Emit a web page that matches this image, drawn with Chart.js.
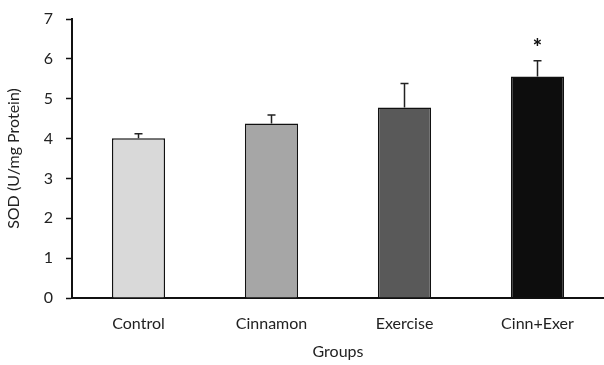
<!DOCTYPE html>
<html>
<head>
<meta charset="utf-8">
<script src="https://cdn.jsdelivr.net/npm/chart.js@4"></script>
<style>
  html, body { margin: 0; padding: 0; background: #fff; }
  #wrap { width: 604px; height: 365px; }
</style>
</head>
<body>
<div id="wrap"><canvas id="sod"></canvas></div>
<script>
const groups = ["Control", "Cinnamon", "Exercise", "Cinn+Exer"];
const sodMeans = [4.01, 4.38, 4.78, 5.56];
const sodErrors = [0.11, 0.21, 0.6, 0.39];
const marks = ["", "", "", "*"];
const yTicks = [0, 1, 2, 3, 4, 5, 6, 7];
const barColors = ["#d9d9d9", "#a6a6a6", "#595959", "#0d0d0d"];

Chart.defaults.font.family = "Lato, 'Open Sans', sans-serif";
Chart.defaults.font.size = 16;
Chart.defaults.color = "#222";

// error bars + significance marks, placed with the chart's own scales
const errorBars = {
  id: "errorBars",
  afterDatasetsDraw(chart) {
    const ctx = chart.ctx;
    const y = chart.scales.y;
    const meta = chart.getDatasetMeta(0);
    ctx.save();
    ctx.strokeStyle = "#222";
    ctx.lineWidth = 1.5;
    meta.data.forEach((bar, i) => {
      const top = y.getPixelForValue(sodMeans[i] + sodErrors[i]);
      ctx.beginPath();
      ctx.moveTo(bar.x, bar.y);
      ctx.lineTo(bar.x, top);
      ctx.moveTo(bar.x - 4, top);
      ctx.lineTo(bar.x + 4, top);
      ctx.stroke();
      if (marks[i]) {
        ctx.fillStyle = "#111";
        ctx.font = "900 22px Lato, sans-serif";
        ctx.textAlign = "center";
        ctx.textBaseline = "bottom";
        ctx.fillText(marks[i], bar.x, top - 2);
      }
    });
    ctx.restore();
  }
};

new Chart(document.getElementById("sod"), {
  type: "bar",
  data: {
    labels: groups,
    datasets: [{
      label: "SOD",
      data: sodMeans,
      backgroundColor: barColors,
      borderColor: "#111",
      borderWidth: 1.5,
      categoryPercentage: 0.4,
      barPercentage: 1
    }]
  },
  options: {
    responsive: true,
    maintainAspectRatio: false,
    animation: false,
    layout: { padding: { top: 19, right: 0, left: 0, bottom: 0 } },
    plugins: {
      legend: { display: false },
      tooltip: { enabled: false }
    },
    scales: {
      x: {
        grid: { display: false },
        border: { color: "#111", width: 2 },
        ticks: { padding: 8 },
        title: { display: true, text: "Groups", padding: { top: 18 } },
        afterFit(s) { s.height = 67; }
      },
      y: {
        min: 0,
        max: 7,
        afterBuildTicks(s) { s.ticks = yTicks.map(v => ({ value: v })); },
        grid: { drawOnChartArea: false, color: "#111", tickLength: 6, tickWidth: 1.5 },
        border: { color: "#111", width: 2 },
        ticks: { padding: 13 },
        title: { display: true, text: "SOD (U/mg Protein)", padding: { bottom: 4 } },
        afterFit(s) { s.width = 72; s.paddingTop = 0; s.paddingBottom = 0; }
      }
    }
  },
  plugins: [errorBars]
});
</script>
</body>
</html>
